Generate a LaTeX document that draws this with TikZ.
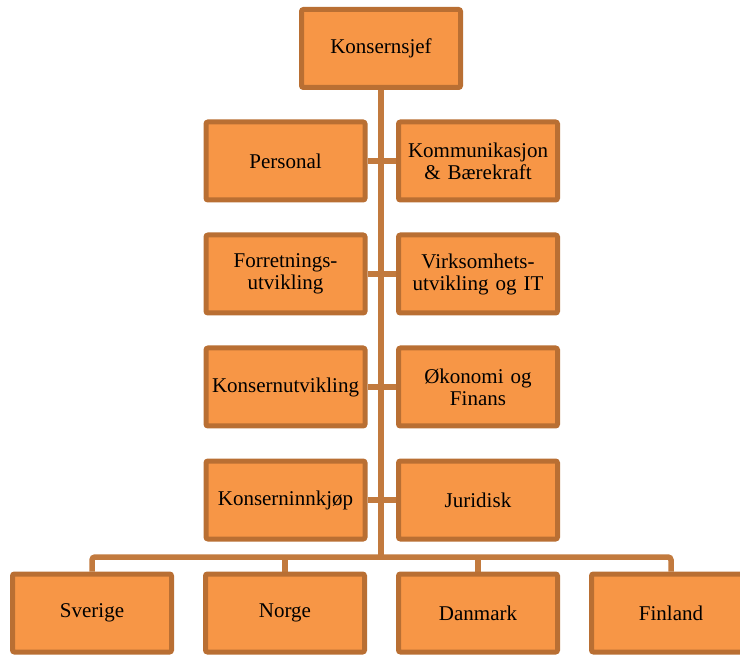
\documentclass[tikz,border=0pt]{standalone}
\usepackage{fontspec}
\setmainfont{Liberation Serif}
\usetikzlibrary{backgrounds}
\definecolor{boxfill}{HTML}{F79646}
\definecolor{boxline}{HTML}{B96F33}
\definecolor{linkline}{HTML}{C27A3E}
\begin{document}
\begin{tikzpicture}[x=1pt,y=-1pt,
  unit/.style={draw=boxline, fill=boxfill, line width=5pt, rounded corners=2pt,
    minimum width=159pt, minimum height=78pt, inner sep=0pt, text width=159pt,
    align=center, font=\fontsize{21}{22}\selectfont},
  link/.style={draw=linkline, line width=5.5pt}]
  \useasboundingbox (0,0) rectangle (740,655);
  \clip (0,0) rectangle (740,655);

  % management
  \node[unit] (ceo) at (381,48.5) {Konsernsjef};

  % staff functions, left and right of the trunk
  \node[unit] (per) at (285.5,161) {Personal};
  \node[unit] (kom) at (478,161) {Kommunikasjon\\\& Bærekraft};
  \node[unit] (for) at (285.5,274) {Forretnings-\\utvikling};
  \node[unit] (vir) at (478,274) {Virksomhets-\\utvikling og IT};
  \node[unit] (kon) at (285.5,387) {Konsernutvikling};
  \node[unit] (oko) at (478,387) {Økonomi og\\Finans};
  \node[unit] (inn) at (285.5,500) {Konserninnkjøp};
  \node[unit] (jur) at (478,500) {Juridisk};

  % countries
  \node[unit] (sve) at (92,613) {Sverige};
  \node[unit] (nor) at (285,613) {Norge};
  \node[unit] (dan) at (478,613) {Danmark};
  \node[unit] (fin) at (671,613) {Finland};

  \coordinate (bus) at (381,557);

  \begin{scope}[on background layer]
    % trunk from the top down to the country bus
    \draw[link] (ceo.south) -- (bus);
    % staff branches
    \draw[link] (per.east) -- (kom.west);
    \draw[link] (for.east) -- (vir.west);
    \draw[link] (kon.east) -- (oko.west);
    \draw[link] (inn.east) -- (jur.west);
    % country bus and drops
    \draw[link, rounded corners=3pt] (sve.north) -- (sve.north |- bus) -- (fin.north |- bus) -- (fin.north);
    \draw[link] (nor.north |- bus) -- (nor.north);
    \draw[link] (dan.north |- bus) -- (dan.north);
  \end{scope}
\end{tikzpicture}
\end{document}
